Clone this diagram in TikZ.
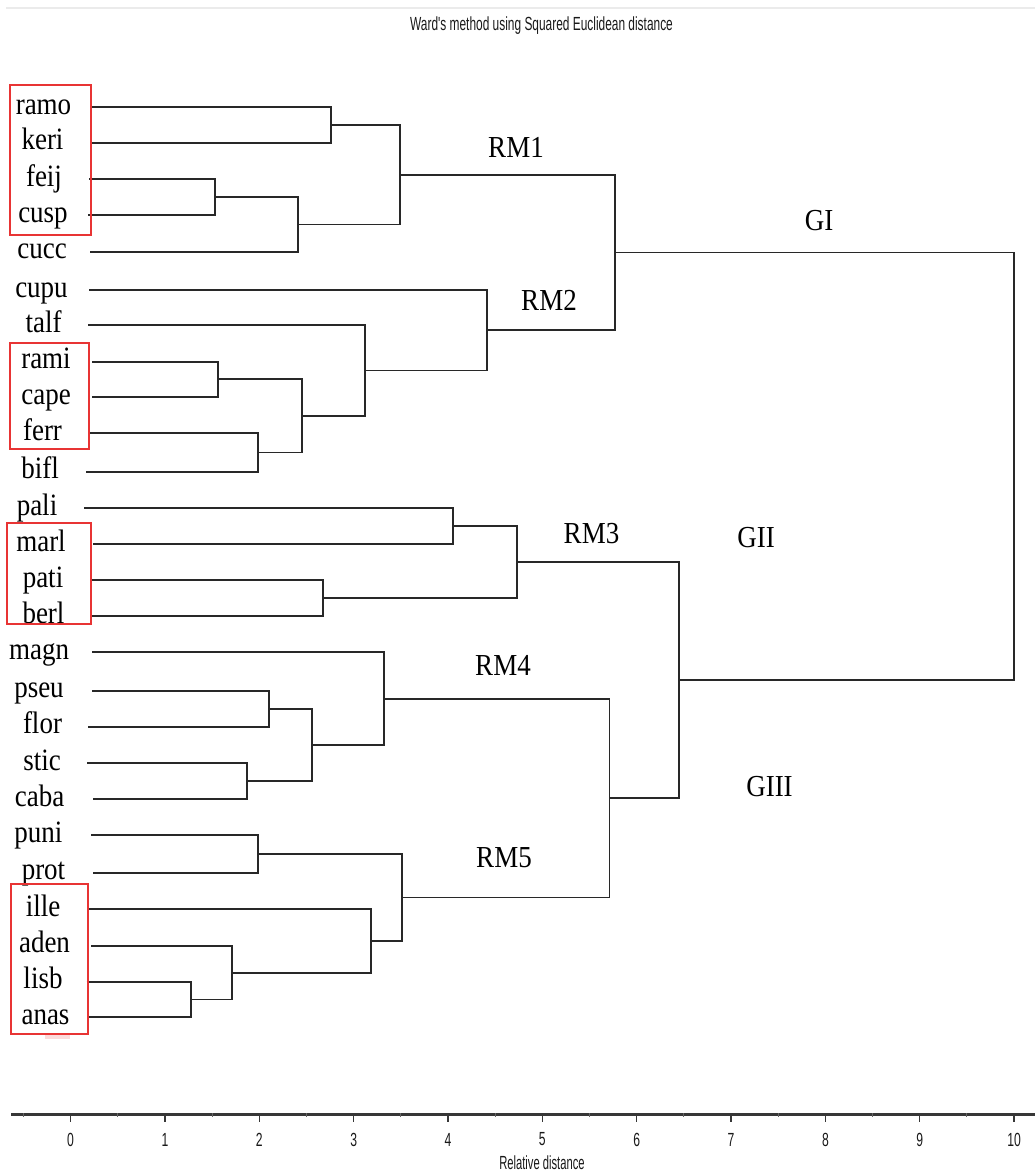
\documentclass[tikz,border=0pt]{standalone}
\usepackage{fontspec}
\setmainfont{Liberation Serif}
\newfontfamily\sansn{Liberation Sans}
\definecolor{treecol}{RGB}{40,40,40}
\definecolor{boxred}{RGB}{232,52,52}
\definecolor{axiscol}{RGB}{55,55,55}
\newcommand\leafitem[4]{%
  \node[leaf] (#1) at (#2,{#3+7.2}) {\scalebox{1}[1.15]{#1}};
  \coordinate (#1-s) at (#4,#3);}
\begin{document}
\begin{tikzpicture}[x=1pt,y=-1pt,
  leaf/.style={font=\fontsize{27}{27}\selectfont, inner sep=0pt, anchor=base},
  grp/.style={font=\fontsize{27}{27}\selectfont, inner sep=0pt, anchor=center},
  tree/.style={draw=treecol, line width=1.8pt},
  redbox/.style={draw=boxred, line width=2pt},
  axisline/.style={draw=axiscol, line width=3pt},
  sanslab/.style={font=\sansn\fontsize{19}{19}\selectfont, inner sep=0pt, text=black!90}]
\useasboundingbox (0,0) rectangle (1035,1173);
% top rule and title
\draw[draw=black!8, line width=2pt] (6,8) -- (1035,8);
\node[sanslab, anchor=base] (title) at (541.5,30.7) {\scalebox{0.627}[1]{Ward's method using Squared Euclidean distance}};
% leaves: name, label centre x, line y, line start x
\leafitem{ramo}{43.5}{107.3}{92}
\leafitem{keri}{42.5}{142.7}{92}
\leafitem{feij}{44}{179}{89}
\leafitem{cusp}{43}{215}{88}
\leafitem{cucc}{42}{251.7}{90}
\leafitem{cupu}{41.5}{290}{89}
\leafitem{talf}{43.5}{325}{88}
\leafitem{rami}{46}{361.7}{92}
\leafitem{cape}{46}{397}{92}
\leafitem{ferr}{42.5}{433.3}{89}
\leafitem{bifl}{40}{471.7}{86}
\leafitem{pali}{37}{508.3}{84}
\leafitem{marl}{41}{544.3}{92.7}
\leafitem{pati}{43}{580}{92}
\leafitem{berl}{43.5}{616}{92}
\leafitem{magn}{39}{652.3}{92}
\leafitem{pseu}{39}{690.7}{92}
\leafitem{flor}{42.5}{726.7}{88}
\leafitem{stic}{42}{763.3}{87}
\leafitem{caba}{39.5}{799}{93}
\leafitem{puni}{38.5}{835}{91}
\leafitem{prot}{43.5}{872.7}{93}
\leafitem{ille}{43}{909.3}{89}
\leafitem{aden}{44.5}{945.7}{91}
\leafitem{lisb}{43}{981.7}{86.7}
\leafitem{anas}{45.5}{1017.3}{89}
% joint coordinates (x of merge, mid y)
\coordinate (A) at (331,125);
\coordinate (B) at (215,197);
\coordinate (C) at (298.3,224.4);
\coordinate (D) at (400,174.7);
\coordinate (G) at (218.3,379.3);
\coordinate (H) at (257.7,452.5);
\coordinate (I) at (301.7,415.9);
\coordinate (J) at (365,370.5);
\coordinate (K) at (487,330.2);
\coordinate (E) at (615,252.5);
\coordinate (L) at (453,526.3);
\coordinate (M) at (322.7,598);
\coordinate (N) at (517,562.2);
\coordinate (O) at (269,708.7);
\coordinate (P) at (247.3,781.2);
\coordinate (Q) at (312.3,745);
\coordinate (R) at (384,698.7);
\coordinate (S) at (257.7,853.9);
\coordinate (T) at (190.7,999.5);
\coordinate (U) at (232.3,972.6);
\coordinate (V) at (371,941);
\coordinate (W) at (402,897.5);
\coordinate (X) at (609.5,798);
\coordinate (Y) at (679,680);
\coordinate (Z) at (1014,466);
% tree
\draw[tree] (ramo-s) -| (A) |- (keri-s);
\draw[tree] (feij-s) -| (B) |- (cusp-s);
\draw[tree] (B) -| (C) |- (cucc-s);
\draw[tree] (A) -| (D) |- (C);
\draw[tree] (rami-s) -| (G) |- (cape-s);
\draw[tree] (ferr-s) -| (H) |- (bifl-s);
\draw[tree] (G) -| (I) |- (H);
\draw[tree] (talf-s) -| (J) |- (I);
\draw[tree] (cupu-s) -| (K) |- (J);
\draw[tree] (D) -| (E) |- (K);
\draw[tree] (pali-s) -| (L) |- (marl-s);
\draw[tree] (pati-s) -| (M) |- (berl-s);
\draw[tree] (L) -| (N) |- (M);
\draw[tree] (pseu-s) -| (O) |- (flor-s);
\draw[tree] (stic-s) -| (P) |- (caba-s);
\draw[tree] (O) -| (Q) |- (P);
\draw[tree] (magn-s) -| (R) |- (Q);
\draw[tree] (puni-s) -| (S) |- (prot-s);
\draw[tree] (lisb-s) -| (T) |- (anas-s);
\draw[tree] (aden-s) -| (U) |- (T);
\draw[tree] (ille-s) -| (V) |- (U);
\draw[tree] (S) -| (W) |- (V);
\draw[tree] (R) -| (X) |- (W);
\draw[tree] (N) -| (Y) |- (X);
\draw[tree] (E) -| (Z) |- (Y);
% group labels
\node[grp] (rm1) at (516,147) {\scalebox{1}[1.13]{RM1}};
\node[grp] (rm2) at (549,300) {\scalebox{1}[1.13]{RM2}};
\node[grp] (rm3) at (591.5,534) {\scalebox{1}[1.13]{RM3}};
\node[grp] (rm4) at (503,665.5) {\scalebox{1}[1.13]{RM4}};
\node[grp] (rm5) at (504,858) {\scalebox{1}[1.13]{RM5}};
\node[grp] (gi) at (819,221) {\scalebox{1}[1.13]{GI}};
\node[grp] (gii) at (756,538) {\scalebox{1}[1.13]{GII}};
\node[grp] (giii) at (769.5,787) {\scalebox{1}[1.13]{GIII}};
% red boxes
\draw[redbox] (10,85) rectangle (91,235);
\draw[redbox] (10,342.7) rectangle (89,449);
\draw[redbox] (7,523) rectangle (91,624);
\draw[redbox] (11,884) rectangle (88,1034);
\fill[boxred!18] (45,1035) rectangle (70,1038.5);
% axis
\draw[axisline] (11,1114) -- (1035,1114);
\foreach \d in {0,...,10}{
  \draw[draw=axiscol, line width=1.3pt] ({70.6+94.35*\d},1114) -- ({70.6+94.35*\d},1121.5);
  \node[sanslab] (t\d) at ({70.6+94.35*\d},1139.5) {\scalebox{0.64}[1]{\d}};
}
\foreach \d in {-1,...,9}{
  \draw[draw=black!60, line width=1pt] ({70.6+94.35*(\d+0.5)},1113) -- ({70.6+94.35*(\d+0.5)},1117);
}
\node[sanslab, anchor=base] (xlab) at (542,1169.5) {\scalebox{0.59}[1]{Relative distance}};
\end{tikzpicture}
\end{document}
